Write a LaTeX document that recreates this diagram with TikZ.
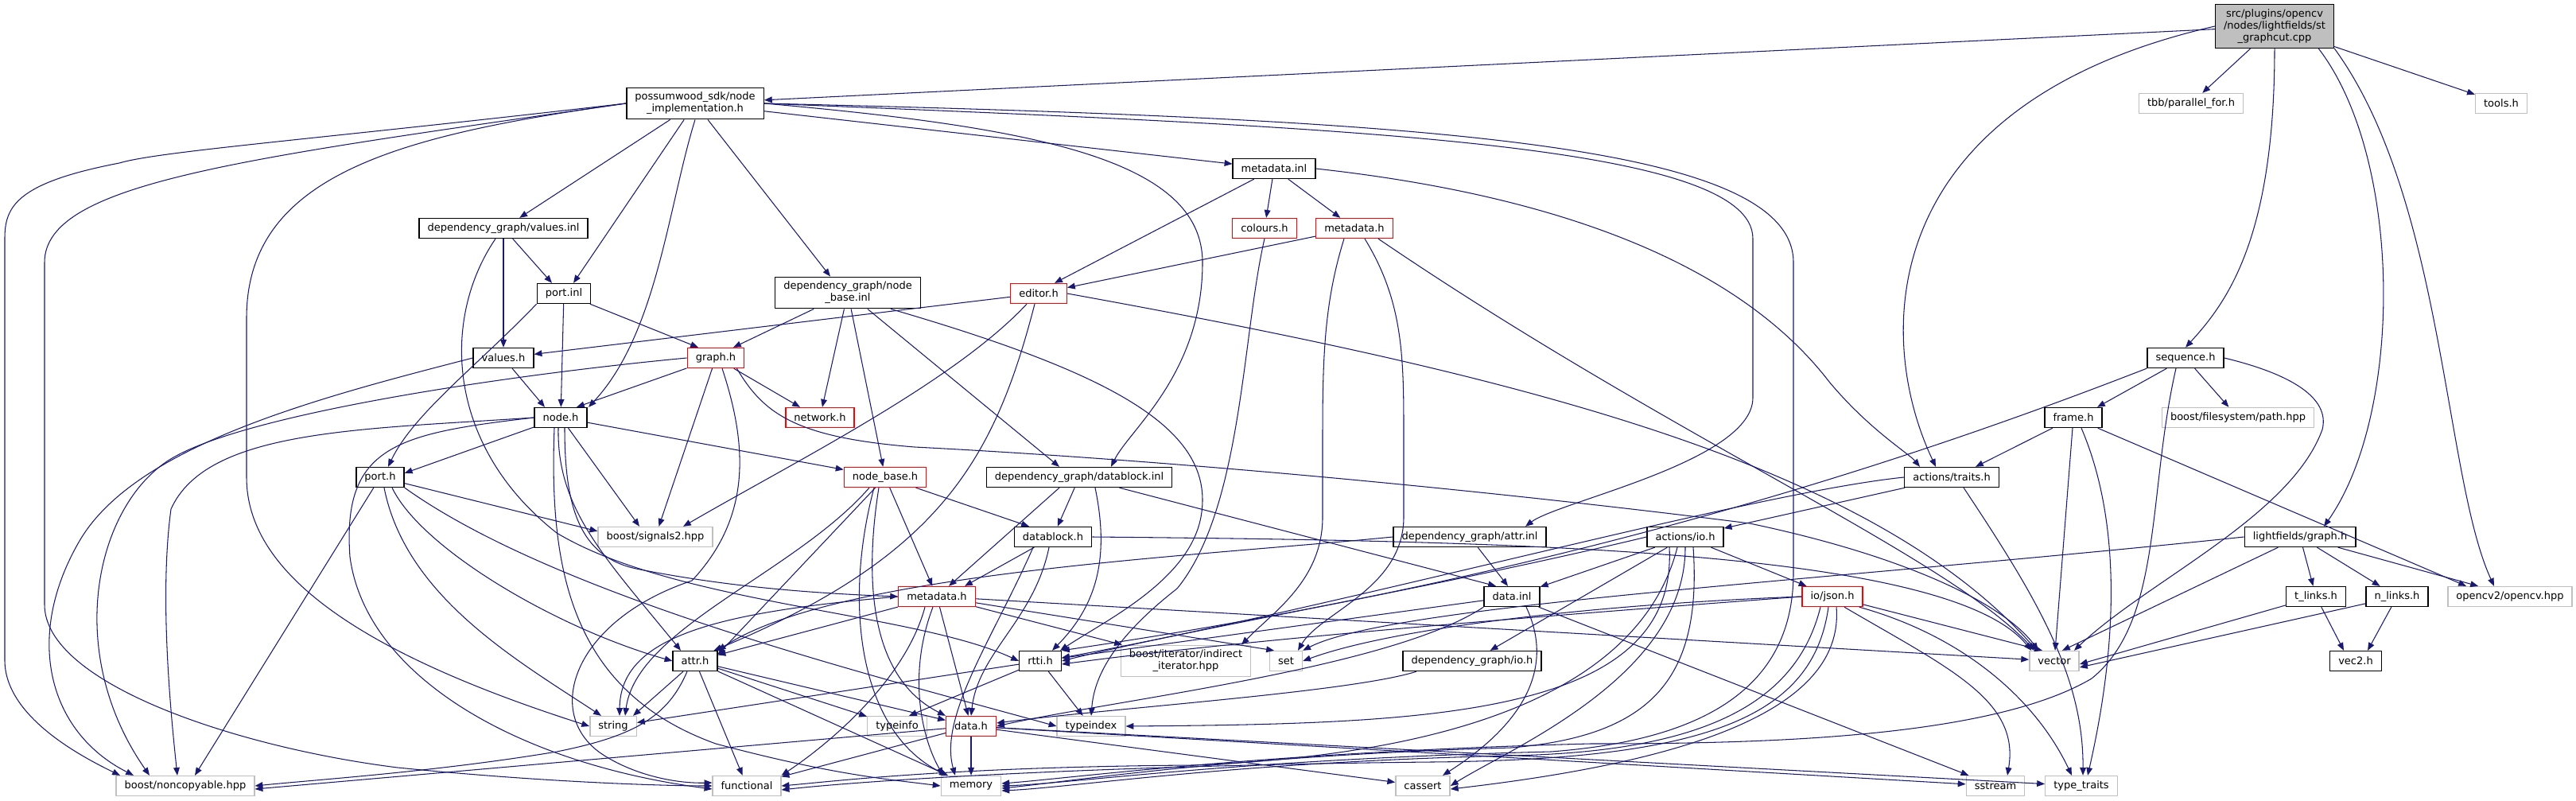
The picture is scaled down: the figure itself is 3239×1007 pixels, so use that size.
\documentclass[tikz,border=0pt]{standalone}
\usepackage{fontspec}
\setmainfont{DejaVu Sans}
\usetikzlibrary{arrows.meta,calc}
\definecolor{edgeblue}{HTML}{191970}
\definecolor{boxgray}{HTML}{BFBFBF}
\begin{document}
\begin{tikzpicture}[
  x=0.02cm, y=0.02cm,
  hfile/.style={draw=black, fill=white, line width=0.8pt, inner xsep=6pt, inner ysep=3.3pt, minimum height=14.2pt, align=center, font=\fontsize{7.4}{8.5}\selectfont},
  trunc/.style={hfile, draw=red},
  sysfile/.style={hfile, draw=boxgray},
  rootfile/.style={hfile, fill=boxgray},
  dep/.style={-{Triangle[length=5.6pt,width=4.4pt]}, draw=edgeblue, line width=0.6pt}
]
\useasboundingbox (0,0) rectangle (3239,-1007);
% files
\node[rootfile] (cpp)     at (2860,-33)  {src/plugins/opencv\\/nodes/lightfields/st\\\_graphcut.cpp};
\node[hfile]    (pw)      at (874,-130)  {possumwood\_sdk/node\\\_implementation.h};
\node[sysfile]  (tbb)     at (2755,-130) {tbb/parallel\_for.h};
\node[sysfile]  (tools)   at (3145,-130) {tools.h};
\node[hfile]    (metainl) at (1602,-212) {metadata.inl};
\node[hfile]    (valinl)  at (633,-287)  {dependency\_graph/values.inl};
\node[trunc]    (colours) at (1590,-287) {colours.h};
\node[trunc]    (metasdk) at (1703,-287) {metadata.h};
\node[hfile]    (portinl) at (709,-369)  {port.inl};
\node[hfile]    (nbinl)   at (1066,-368) {dependency\_graph/node\\\_base.inl};
\node[trunc]    (editor)  at (1306,-369) {editor.h};
\node[hfile]    (valuesh) at (633,-450)  {values.h};
\node[trunc]    (graphh)  at (900,-450)  {graph.h};
\node[hfile]    (seq)     at (2748,-450) {sequence.h};
\node[hfile]    (nodeh)   at (705,-525)  {node.h};
\node[trunc]    (network) at (1031,-525) {network.h};
\node[hfile]    (frame)   at (2607,-525) {frame.h};
\node[sysfile]  (fspath)  at (2814,-525) {boost/filesystem/path.hpp};
\node[hfile]    (porth)   at (478,-600)  {port.h};
\node[trunc]    (nbh)     at (1113,-600) {node\_base.h};
\node[hfile]    (dbinl)   at (1357,-600) {dependency\_graph/datablock.inl};
\node[hfile]    (traits)  at (2454,-600) {actions/traits.h};
\node[sysfile]  (signals) at (824,-675)  {boost/signals2.hpp};
\node[hfile]    (dbh)     at (1324,-675) {datablock.h};
\node[hfile]    (attrinl) at (1848,-675) {dependency\_graph/attr.inl};
\node[hfile]    (actio)   at (2119,-675) {actions/io.h};
\node[hfile]    (lgraph)  at (2892,-675) {lightfields/graph.h};
\node[trunc]    (metadg)  at (1178,-750) {metadata.h};
\node[hfile]    (datainl) at (1901,-750) {data.inl};
\node[trunc]    (json)    at (2304,-750) {io/json.h};
\node[hfile]    (tlinks)  at (2912,-750) {t\_links.h};
\node[hfile]    (nlinks)  at (3014,-750) {n\_links.h};
\node[sysfile]  (opencv)  at (3156,-750) {opencv2/opencv.hpp};
\node[hfile]    (attrh)   at (874,-831)  {attr.h};
\node[hfile]    (rtti)    at (1308,-831) {rtti.h};
\node[sysfile]  (indirect) at (1491,-831) {boost/iterator/indirect\\\_iterator.hpp};
\node[sysfile]  (set)     at (1617,-831) {set};
\node[hfile]    (dgio)    at (1851,-831) {dependency\_graph/io.h};
\node[sysfile]  (vector)  at (2583,-831) {vector};
\node[hfile]    (vec2)    at (2962,-831) {vec2.h};
\node[sysfile]  (string)  at (771,-913)  {string};
\node[sysfile]  (typeinfo) at (1128,-913) {typeinfo};
\node[trunc]    (datah)   at (1221,-913) {data.h};
\node[sysfile]  (typeindex) at (1372,-913) {typeindex};
\node[sysfile]  (noncopy) at (233,-988)  {boost/noncopyable.hpp};
\node[sysfile]  (functional) at (939,-988) {functional};
\node[sysfile]  (memory)  at (1221,-988) {memory};
\node[sysfile]  (cassert) at (1789,-988) {cassert};
\node[sysfile]  (sstream) at (2509,-988) {sstream};
\node[sysfile]  (typetraits) at (2617,-988) {type\_traits};
% st_graphcut.cpp
\draw[dep] (cpp) -- (pw);
\draw[dep] (cpp) -- (tbb);
\draw[dep] (cpp) -- (tools);
\draw[dep] (cpp.south) .. controls (2860,-300) and (2800,-380) .. (seq.north);
\draw[dep] (cpp.west) .. controls (2360,-130) and (2355,-420) .. ($(traits.north)+(-20,0)$);
\draw[dep] ($(cpp.south east)+(-20,0)$) .. controls (3022,-200) and (3022,-520) .. ($(lgraph.north)+(30,0)$);
\draw[dep] (cpp.south east) .. controls (3073,-250) and (3073,-600) .. ($(opencv.north)+(-20,0)$);
% node_implementation.h
\draw[dep] (pw) -- (metainl);
\draw[dep] (pw) -- (valinl);
\draw[dep] (pw) -- ($(portinl.north)+(12,0)$);
\draw[dep] (pw) -- ($(nbinl.north)+(-22,0)$);
\draw[dep] (pw.south) .. controls (840,-260) and (826,-420) .. ($(nodeh.north)+(35,0)$);
\draw[dep] (pw.east) .. controls (1300,-160) and (1512,-200) .. (1512,-330) .. controls (1512,-470) and (1420,-540) .. ($(dbinl.north)+(40,0)$);
\draw[dep] (pw.east) .. controls (1700,-160) and (2204,-180) .. (2204,-300) -- (2204,-500) .. controls (2204,-580) and (1960,-630) .. ($(attrinl.north)+(70,0)$);
\draw[dep] (pw.east) .. controls (1800,-150) and (2255,-180) .. (2255,-330) -- (2255,-720) .. controls (2255,-860) and (2150,-930) .. (1950,-945) .. controls (1550,-955) and (1350,-985) .. (memory.east);
\draw[dep] (pw.west) .. controls (500,-170) and (310,-220) .. (310,-400) -- (310,-600) .. controls (310,-720) and (450,-820) .. (string.west);
\draw[dep] (pw.west) .. controls (400,-175) and (200,-190) .. (150,-205) .. controls (20,-230) and (6,-260) .. (6,-300) -- (6,-830) .. controls (6,-900) and (100,-950) .. ($(noncopy.north)+(-82,0)$);
\draw[dep] (pw.west) .. controls (300,-200) and (56,-230) .. (56,-330) -- (56,-760) .. controls (56,-860) and (300,-940) .. (500,-965) .. controls (700,-985) and (850,-988) .. (functional.west);
% metadata.inl
\draw[dep] (metainl) -- (colours);
\draw[dep] (metainl) -- (metasdk);
\draw[dep] (metainl) -- ($(editor.north)+(20,0)$);
\draw[dep] (metainl.east) .. controls (2000,-250) and (2200,-350) .. (2300,-480) .. controls (2350,-540) and (2400,-570) .. ($(traits.north)+(-40,0)$);
% values.inl, port.inl
\draw[dep] (valinl) -- ($(portinl.north)+(-15,0)$);
\draw[dep] (valinl) -- (valuesh);
\draw[dep] ($(valinl.south)+(-10,0)$) .. controls (555,-400) and (560,-560) .. (700,-670) .. controls (850,-760) and (1150,-770) .. (rtti.west);
\draw[dep] (portinl) -- ($(graphh.north)+(-22,0)$);
\draw[dep] (portinl) -- (nodeh);
\draw[dep] (portinl.south west) .. controls (600,-460) and (520,-520) .. ($(porth.north)+(10,0)$);
% colours.h, metadata.h
\draw[dep] (colours.south) .. controls (1562,-420) and (1562,-640) .. (1480,-740) .. controls (1390,-810) and (1375,-860) .. (typeindex.north);
\draw[dep] (metasdk) -- (editor);
\draw[dep] ($(metasdk.south)+(-13,0)$) .. controls (1665,-380) and (1663,-450) .. (1663,-550) -- (1663,-650) .. controls (1663,-730) and (1600,-770) .. ($(indirect.north)+(70,0)$);
\draw[dep] ($(metasdk.south)+(13,0)$) .. controls (1765,-380) and (1765,-450) .. (1765,-550) -- (1765,-650) .. controls (1765,-740) and (1660,-770) .. ($(set.north)+(15,0)$);
\draw[dep] ($(metasdk.south)+(30,0)$) .. controls (2100,-550) and (2450,-700) .. ($(vector.north)+(-25,0)$);
% node_base.inl
\draw[dep] (nbinl) -- ($(graphh.north)+(22,0)$);
\draw[dep] (nbinl) -- (network);
\draw[dep] (nbinl) -- (nbh);
\draw[dep] (nbinl) -- ($(dbinl.north)+(-25,0)$);
\draw[dep] ($(nbinl.south)+(54,0)$) .. controls (1400,-470) and (1530,-540) .. (1510,-650) .. controls (1495,-730) and (1390,-780) .. ($(rtti.north)+(25,0)$);
% editor.h
\draw[dep] (editor) -- (valuesh);
\draw[dep] ($(editor.south)+(-15,0)$) .. controls (1200,-480) and (1000,-580) .. ($(signals.north)+(35,0)$);
\draw[dep] ($(editor.south)+(-5,0)$) .. controls (1250,-580) and (1180,-700) .. ($(attrh.north east)+(-5,0)$);
\draw[dep] (editor.east) .. controls (1900,-470) and (2350,-580) .. ($(vector.north west)+(10,0)$);
% values.h, graph.h
\draw[dep] (valuesh) -- ($(nodeh.north)+(-20,0)$);
\draw[dep] (valuesh.west) .. controls (400,-500) and (170,-560) .. (100,-680) .. controls (30,-800) and (60,-920) .. ($(noncopy.north)+(-65,0)$);
\draw[dep] (graphh) -- ($(nodeh.north)+(20,0)$);
\draw[dep] (graphh) -- ($(network.north)+(-25,0)$);
\draw[dep] (graphh) -- (signals);
\draw[dep] (graphh.west) .. controls (650,-470) and (300,-520) .. (210,-580) .. controls (120,-640) and (80,-820) .. ($(noncopy.north)+(-45,0)$);
\draw[dep] ($(graphh.south)+(8,0)$) .. controls (940,-560) and (945,-650) .. (870,-730) .. controls (720,-780) and (680,-900) .. (760,-950) .. controls (800,-975) and (850,-985) .. ($(functional.west)+(0,4)$);
\draw[dep] ($(graphh.south east)+(-10,0)$) .. controls (960,-520) and (1000,-550) .. (1150,-562) .. controls (1500,-580) and (1900,-620) .. (2200,-658) .. controls (2400,-700) and (2520,-760) .. ($(vector.north)+(-20,0)$);
% node.h
\draw[dep] (nodeh) -- ($(porth.north east)+(0,-8)$);
\draw[dep] (nodeh) -- (nbh);
\draw[dep] (nodeh) -- ($(signals.north)+(-20,0)$);
\draw[dep] ($(nodeh.south)+(-3,0)$) .. controls (700,-640) and (760,-700) .. ($(attrh.north)+(-18,0)$);
\draw[dep] ($(nodeh.south)+(5,0)$) .. controls (710,-640) and (730,-700) .. (800,-715) .. controls (900,-735) and (1000,-745) .. (metadg.west);
\draw[dep] (nodeh.west) .. controls (450,-540) and (260,-540) .. (215,-640) .. controls (200,-750) and (215,-900) .. ($(noncopy.north)+(-10,0)$);
\draw[dep] (nodeh.west) .. controls (500,-545) and (430,-560) .. (440,-700) .. controls (460,-850) and (650,-960) .. ($(functional.west)+(0,-4)$);
\draw[dep] ($(nodeh.south)+(-8,0)$) .. controls (690,-720) and (720,-870) .. (900,-935) .. controls (1050,-975) and (1120,-980) .. (memory.west);
% port.h
\draw[dep] (porth) -- ($(signals.north west)+(0,-6)$);
\draw[dep] (porth) -- ($(noncopy.north)+(12,0)$);
\draw[dep] ($(porth.south)+(15,0)$) .. controls (530,-690) and (700,-790) .. (attrh.west);
\draw[dep] ($(porth.south)+(5,0)$) .. controls (510,-750) and (650,-830) .. ($(string.north)+(-15,0)$);
\draw[dep] (porth.south east) .. controls (700,-750) and (1100,-850) .. (typeindex.west);
% node_base.h
\draw[dep] (nbh) -- (metadg);
\draw[dep] (nbh) -- ($(dbh.north)+(-30,0)$);
\draw[dep] (nbh) -- ($(attrh.north east)+(0,-5)$);
\draw[dep] ($(nbh.south)+(-8,0)$) .. controls (1088,-720) and (1090,-850) .. (datah.north west);
\draw[dep] ($(nbh.south)+(-20,0)$) .. controls (1000,-720) and (800,-790) .. ($(string.north)+(15,0)$);
\draw[dep] ($(nbh.south)+(-14,0)$) .. controls (1060,-760) and (1080,-920) .. ($(memory.north)+(-30,0)$);
% datablock.inl
\draw[dep] (dbinl) -- (dbh);
\draw[dep] (dbinl) -- ($(datainl.north)+(-20,0)$);
\draw[dep] ($(dbinl.south)+(-25,0)$) -- ($(metadg.north)+(15,0)$);
\draw[dep] ($(dbinl.south)+(20,0)$) .. controls (1395,-700) and (1380,-760) .. ($(rtti.north)+(15,0)$);
% datablock.h
\draw[dep] (dbh) -- ($(metadg.north)+(35,0)$);
\draw[dep] ($(dbh.south)+(-5,0)$) .. controls (1300,-780) and (1230,-820) .. (datah.north);
\draw[dep] (dbh.east) .. controls (1900,-680) and (2450,-690) .. ($(vector.north west)+(3,0)$);
\draw[dep] ($(dbh.south)+(-25,0)$) .. controls (1250,-800) and (1180,-900) .. ($(memory.north)+(-20,0)$);
% attr.inl, actions/io.h
\draw[dep] (attrinl) -- ($(datainl.north)+(-5,0)$);
\draw[dep] (attrinl.west) .. controls (1500,-700) and (1050,-720) .. (attrh.north east);
\draw[dep] (actio) -- (datainl);
\draw[dep] (actio) -- (json);
\draw[dep] (actio) -- (dgio);
\draw[dep] (actio.west) .. controls (1800,-740) and (1500,-790) .. (rtti.east);
\draw[dep] ($(actio.south)+(-20,0)$) .. controls (2110,-900) and (1800,-910) .. (typeindex.east);
\draw[dep] ($(actio.south)+(10,0)$) .. controls (2140,-850) and (2080,-925) .. (1900,-940) .. controls (1550,-950) and (1350,-982) .. ($(memory.east)+(0,-3)$);
\draw[dep] ($(actio.south)+(-10,0)$) .. controls (2060,-880) and (1800,-950) .. (1500,-962) .. controls (1200,-964) and (1050,-982) .. (functional.east);
\draw[dep] (actio.south) .. controls (2119,-850) and (1900,-940) .. (cassert.east);
% lightfields/graph.h
\draw[dep] (lgraph) -- (tlinks);
\draw[dep] (lgraph) -- (nlinks);
\draw[dep] (lgraph) -- ($(opencv.north)+(-40,0)$);
\draw[dep] (lgraph) -- ($(vector.north)+(10,0)$);
\draw[dep] (lgraph.west) .. controls (2300,-730) and (1750,-760) .. (set.north east);
% metadata.h
\draw[dep] (metadg) -- (datah);
\draw[dep] (metadg) -- (attrh);
\draw[dep] (metadg) -- ($(set.north)+(-15,0)$);
\draw[dep] (metadg) -- ($(indirect.north)+(-80,0)$);
\draw[dep] (metadg) -- (vector);
\draw[dep] (metadg.west) .. controls (900,-770) and (780,-800) .. ($(string.north)+(8,0)$);
\draw[dep] ($(metadg.south)+(-15,0)$) .. controls (1140,-850) and (1050,-930) .. (functional.north east);
\draw[dep] ($(metadg.south)+(-5,0)$) .. controls (1140,-850) and (1160,-930) .. ($(memory.north)+(-35,0)$);
% data.inl
\draw[dep] (datainl) -- (rtti);
\draw[dep] (datainl.south west) .. controls (1750,-840) and (1400,-880) .. (datah.east);
\draw[dep] ($(datainl.south)+(18,0)$) .. controls (1960,-850) and (1900,-920) .. ($(cassert.north)+(25,0)$);
\draw[dep] (datainl) -- (sstream);
% io/json.h
\draw[dep] (json) -- ($(vector.north)+(-15,0)$);
\draw[dep] (json.west) .. controls (2000,-760) and (1750,-790) .. (set.east);
\draw[dep] (json.west) .. controls (2000,-770) and (1600,-800) .. ($(rtti.east)+(0,-4)$);
\draw[dep] ($(json.south east)+(-5,0)$) .. controls (2470,-800) and (2560,-880) .. ($(typetraits.north)+(-12,0)$);
\draw[dep] ($(json.south)+(15,0)$) .. controls (2450,-840) and (2540,-880) .. ($(sstream.north)+(15,0)$);
\draw[dep] ($(json.south)+(-15,0)$) .. controls (2260,-880) and (2150,-945) .. (1900,-950) .. controls (1550,-958) and (1350,-990) .. ($(memory.east)+(0,-6)$);
\draw[dep] ($(json.south)+(-5,0)$) .. controls (2280,-900) and (2150,-955) .. (1800,-958) .. controls (1400,-962) and (1100,-980) .. ($(functional.east)+(0,-5)$);
\draw[dep] ($(json.south)+(5,0)$) .. controls (2320,-900) and (2100,-960) .. ($(cassert.east)+(0,-4)$);
% t_links.h, n_links.h
\draw[dep] (tlinks) -- ($(vector.east)+(0,-4)$);
\draw[dep] (tlinks) -- ($(vec2.north)+(-15,0)$);
\draw[dep] (nlinks) -- ($(vector.east)+(0,-8)$);
\draw[dep] (nlinks) -- ($(vec2.north)+(15,0)$);
% attr.h, rtti.h, io.h
\draw[dep] (attrh) -- ($(string.north)+(25,0)$);
\draw[dep] (attrh) -- (typeinfo);
\draw[dep] (attrh) -- (datah);
\draw[dep] (attrh) -- (functional);
\draw[dep] (attrh) -- (memory);
\draw[dep] ($(attrh.south)+(-10,0)$) .. controls (840,-900) and (800,-925) .. (700,-945) .. controls (550,-970) and (400,-980) .. (noncopy.east);
\draw[dep] (rtti) -- (string);
\draw[dep] (rtti) -- ($(typeinfo.north)+(15,0)$);
\draw[dep] (rtti) -- (typeindex);
\draw[dep] ($(dgio.south)+(-70,0)$) .. controls (1700,-870) and (1400,-890) .. ($(datah.east)+(0,4)$);
% data.h
\draw[dep] (datah) -- (memory);
\draw[dep] (datah) -- (functional);
\draw[dep] (datah) -- ($(noncopy.east)+(0,-4)$);
\draw[dep] (datah) -- (cassert);
\draw[dep] (datah) -- (sstream);
\draw[dep] (datah) -- (typetraits);
% sequence.h, frame.h, actions/traits.h
\draw[dep] (seq) -- ($(frame.north)+(30,0)$);
\draw[dep] (seq) -- (fspath);
\draw[dep] (seq.east) .. controls (2880,-470) and (2930,-500) .. (2920,-540) .. controls (2880,-650) and (2700,-730) .. ($(vector.north)+(25,0)$);
\draw[dep] (seq.south west) .. controls (2450,-560) and (2000,-720) .. (rtti.north east);
\draw[dep] ($(seq.south)+(-12,0)$) .. controls (2700,-620) and (2720,-780) .. (2630,-853) .. controls (2500,-930) and (2200,-935) .. (2000,-935) .. controls (1600,-945) and (1350,-978) .. ($(memory.east)+(0,3)$);
\draw[dep] (frame) -- ($(traits.north)+(30,0)$);
\draw[dep] (frame) -- (vector);
\draw[dep] (frame) -- ($(opencv.north)+(-55,0)$);
\draw[dep] ($(frame.south)+(10,0)$) .. controls (2665,-650) and (2665,-800) .. ($(typetraits.north)+(8,0)$);
\draw[dep] (traits) -- (actio);
\draw[dep] ($(traits.south)+(15,0)$) .. controls (2560,-750) and (2620,-850) .. ($(typetraits.north)+(2,0)$);
\draw[dep] (traits.west) .. controls (2200,-620) and (1700,-760) .. ($(rtti.east)+(0,4)$);
\end{tikzpicture}
\end{document}
